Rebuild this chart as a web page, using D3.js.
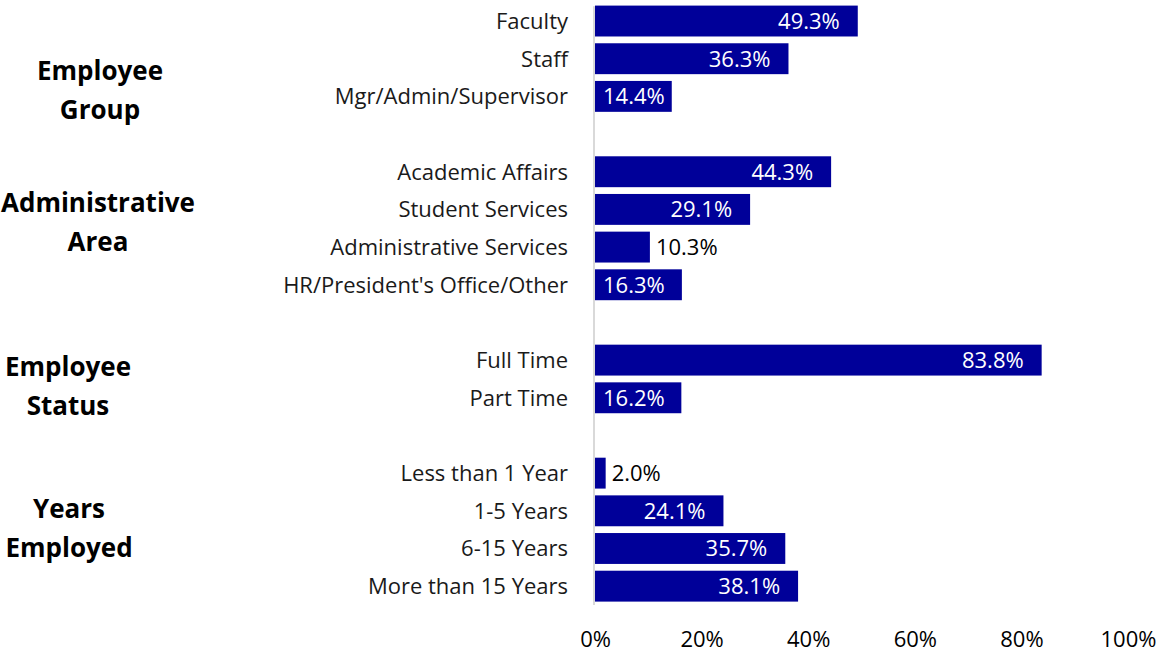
<!DOCTYPE html>
<html><head><meta charset="utf-8">
<script src="https://cdn.jsdelivr.net/npm/d3@7"></script>
<style>
html,body{margin:0;padding:0;background:#fff;}
svg text{font-family:"Open Sans", sans-serif;}
</style></head>
<body>
<svg id="chart" width="1158" height="652"></svg>
<script>
// Data
const categories = ["Faculty","Staff","Mgr/Admin/Supervisor","",
  "Academic Affairs","Student Services","Administrative Services","HR/President's Office/Other","",
  "Full Time","Part Time","",
  "Less than 1 Year","1-5 Years","6-15 Years","More than 15 Years"];
const values = [49.3,36.3,14.4,null,44.3,29.1,10.3,16.3,null,83.8,16.2,null,2.0,24.1,35.7,38.1];
const groupNames = [["Employee","Group"],["Administrative","Area"],["Employee","Status"],["Years","Employed"]];
const xTicks = [0,20,40,60,80,100];

const svg = d3.select("#chart");
const FONT = "'Open Sans', sans-serif";
const FS = 22;
const x0 = 595, x1 = 1128, yTop = 2.2, yBot = 605;
const keys = categories.map((c,i)=>i);
const x = d3.scaleLinear().domain([0,100]).range([x0,x1]);
const y = d3.scaleBand().domain(keys).range([yTop,yBot]).paddingInner(0.18).paddingOuter(0.09);

// bars
keys.forEach(i=>{
  if(values[i]==null) return;
  svg.append("rect").attr("x",x(0)).attr("y",y(i)).attr("width",x(values[i])-x(0))
    .attr("height",y.bandwidth()).attr("fill","#000099");
});

// axis line
svg.append("line").attr("x1",x0-1).attr("x2",x0-1).attr("y1",yTop+4).attr("y2",yBot)
  .attr("stroke","#d9d9d9").attr("stroke-width",2);

// category labels
keys.forEach(i=>{
  if(!categories[i]) return;
  svg.append("text").attr("x",568).attr("y",y(i)+y.bandwidth()/2).attr("dy","0.36em")
    .attr("text-anchor","end").attr("font-size",FS).attr("fill","#1a1a1a").text(categories[i]);
});

// value labels
keys.forEach(i=>{
  const v = values[i]; if(v==null) return;
  const t = svg.append("text").attr("y",y(i)+y.bandwidth()/2).attr("dy","0.36em")
    .attr("font-size",FS).text(v.toFixed(1)+"%");
  const w = t.node().getComputedTextLength();
  const end = x(v);
  if(end - x(0) < 60){
    t.attr("x",end+6).attr("fill","#000").attr("text-anchor","start");
  } else {
    let right = end - 18;
    if(right - w < x(0)+8) right = x(0)+8+w;
    t.attr("x",right).attr("fill","#fff").attr("text-anchor","end");
  }
});

// x tick labels
const axis = d3.axisBottom(x).tickValues(xTicks).tickFormat(d=>d+"%").tickSize(0).tickPadding(0);
const g = svg.append("g").attr("transform","translate(0,647)").call(axis);
g.select(".domain").remove();
g.selectAll("text").attr("font-size",FS).attr("fill","#000").attr("dy","0")
  .style("font-family",FONT);

// group labels
const groupRows = [[0,2],[4,7],[9,10],[12,15]];
const groupX = [100,98,68,69];
const groupDY = [30,-7,6,-3];
groupNames.forEach((lines,gi)=>{
  const [a,b] = groupRows[gi];
  const cy = (y(a)+y(b)+y.bandwidth())/2 + groupDY[gi];
  const t = svg.append("text").attr("x",groupX[gi]).attr("y",cy).attr("text-anchor","middle")
    .attr("font-size",26).attr("font-weight","bold").attr("fill","#000");
  lines.forEach((l,li)=>{
    t.append("tspan").attr("x",groupX[gi]).attr("dy", li===0 ? "-0.35em" : "1.5em").text(l);
  });
});
</script>
</body></html>
